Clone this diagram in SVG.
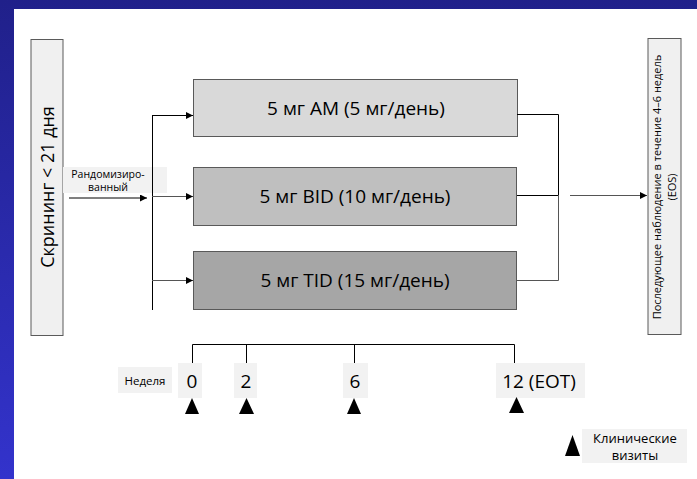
<svg xmlns="http://www.w3.org/2000/svg" width="697" height="479" viewBox="0 0 697 479">
<defs>
<linearGradient id="bg" x1="0" y1="0" x2="0" y2="1">
<stop offset="0" stop-color="#20208a"/>
<stop offset="1" stop-color="#3333cc"/>
</linearGradient>
<marker id="arr" viewBox="0 0 10 10" refX="10" refY="5" markerWidth="7" markerHeight="7" markerUnits="userSpaceOnUse" orient="auto">
<path d="M0,0 L10,5 L0,10 Z" fill="#000"/>
</marker>
<style>
text{font-family:"Open Sans","Noto Sans","DejaVu Sans",sans-serif;fill:#000}
.side{fill:#f0f0f0;stroke:#5a5a5a;stroke-width:1}
.arm{stroke:#595959;stroke-width:1}
.lbl{fill:#f2f2f2}
.ln{stroke:#000;stroke-width:1;fill:none}
.lg{stroke:#555;stroke-width:1;fill:none}
.big{font-size:19px}
.wk{font-size:19px}
.sm{font-size:10.5px}
.tri{fill:#000}
</style>
</defs>
<rect x="0" y="0" width="697" height="479" fill="url(#bg)"/>
<rect x="14" y="9" width="683" height="470" fill="#fff"/>

<g id="screening">
<rect class="side" x="31" y="39.5" width="32" height="296"/>
<text font-size="18" transform="translate(53.5,187) rotate(-90)" text-anchor="middle">Скрининг &lt; 21 дня</text>
</g>

<g id="randomized">
<rect class="lbl" x="63" y="167" width="104" height="26"/>
<text class="sm" text-anchor="middle"><tspan x="108" y="178">Рандомизиро-</tspan><tspan x="108" y="191">ванный</tspan></text>
</g>

<g id="arm-am">
<rect class="arm" fill="#d9d9d9" x="193.5" y="79.5" width="324" height="57"/>
<text class="big" x="356" y="115" text-anchor="middle">5 мг AM (5 мг/день)</text>
</g>
<g id="arm-bid">
<rect class="arm" fill="#bfbfbf" x="193.5" y="167.5" width="323" height="58"/>
<text class="big" x="355" y="203" text-anchor="middle">5 мг BID (10 мг/день)</text>
</g>
<g id="arm-tid">
<rect class="arm" fill="#a6a6a6" x="193.5" y="251.5" width="323" height="58"/>
<text class="big" x="355" y="287" text-anchor="middle">5 мг TID (15 мг/день)</text>
</g>

<g id="followup">
<rect class="side" x="648" y="38.5" width="33" height="296"/>
<text font-size="11" transform="translate(661,187) rotate(-90)" text-anchor="middle">Последующее наблюдение в течение 4–6 недель</text>
<text font-size="11" transform="translate(676,187) rotate(-90)" text-anchor="middle">(EOS)</text>
</g>

<g id="connectors">
<line class="ln" x1="69" y1="198" x2="147" y2="198" marker-end="url(#arr)"/>
<line class="ln" x1="152.5" y1="115" x2="152.5" y2="310"/>
<line class="ln" x1="152" y1="115.5" x2="193" y2="115.5" marker-end="url(#arr)"/>
<line class="lg" x1="152" y1="196.5" x2="193" y2="196.5" marker-end="url(#arr)"/>
<line class="lg" x1="152" y1="280.5" x2="193" y2="280.5" marker-end="url(#arr)"/>
<polyline class="ln" points="517,114.5 558.5,114.5 558.5,195.5 517,195.5"/>
<polyline class="lg" points="558.5,195 558.5,280.5 517,280.5"/>
<line class="lg" x1="570" y1="195.5" x2="647" y2="195.5" marker-end="url(#arr)"/>
</g>

<g id="timeline">
<polyline class="ln" points="192.5,363 192.5,344.5 514.5,344.5 514.5,363"/>
<line class="ln" x1="246.5" y1="344" x2="246.5" y2="363"/>
<line class="ln" x1="354.5" y1="344" x2="354.5" y2="363"/>
</g>

<g id="week-label">
<rect class="lbl" x="118" y="367" width="54" height="26"/>
<text font-size="11.5" x="145" y="384.5" text-anchor="middle">Неделя</text>
</g>
<g id="week-0">
<rect class="lbl" x="178" y="363" width="24" height="35"/>
<text class="wk" x="192" y="388" text-anchor="middle">0</text>
<polygon class="tri" points="192,398 185,414 199,414"/>
</g>
<g id="week-2">
<rect class="lbl" x="234" y="363" width="23" height="35"/>
<text class="wk" x="246" y="388" text-anchor="middle">2</text>
<polygon class="tri" points="246.5,398 239,414 254,414"/>
</g>
<g id="week-6">
<rect class="lbl" x="343" y="363" width="25" height="35"/>
<text class="wk" x="355" y="388" text-anchor="middle">6</text>
<polygon class="tri" points="354,398 347,414 361,414"/>
</g>
<g id="week-12">
<rect class="lbl" x="496" y="363" width="89" height="35"/>
<text class="wk" x="539" y="388" font-size="20" text-anchor="middle">12 (EOT)</text>
<polygon class="tri" points="516.5,397 509,413 524,413"/>
</g>

<g id="legend">
<polygon class="tri" points="572.5,435 565,456 580,456"/>
<rect class="lbl" x="582" y="429" width="105" height="34"/>
<text font-size="13" text-anchor="middle"><tspan x="635" y="443">Клинические</tspan><tspan x="635" y="460">визиты</tspan></text>
</g>
</svg>
